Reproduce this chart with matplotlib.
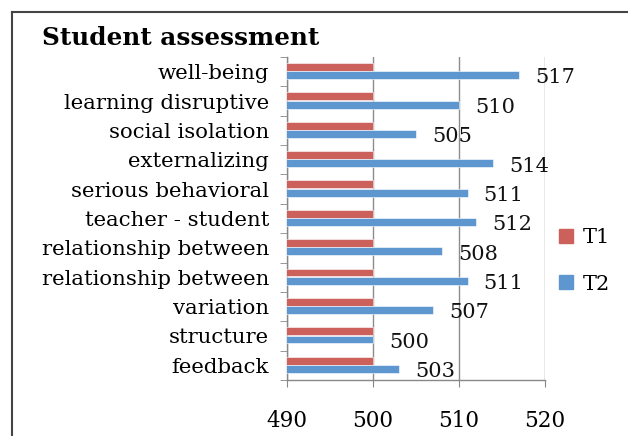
import matplotlib
matplotlib.use("Agg")
import matplotlib.pyplot as plt
import numpy as np
from matplotlib.lines import Line2D

categories = ["well-being", "learning disruptive", "social isolation", "externalizing",
              "serious behavioral", "teacher - student", "relationship between",
              "relationship between", "variation", "structure", "feedback"]
t1 = [500, 500, 500, 500, 500, 500, 500, 500, 500, 500, 500]
t2 = [517, 510, 505, 514, 511, 512, 508, 511, 507, 500, 503]
series_names = ["T1", "T2"]
x_ticks = [490, 500, 510, 520]

RED = "#CC605B"
BLUE = "#5E96D0"
FONT = "DejaVu Serif"

fig = plt.figure(figsize=(6.28, 4.36), dpi=100)
ax = fig.add_axes([287/628, 1-380/436, (545-287)/628, (380-57)/436])

y = np.arange(len(categories))
h = 0.27
ax.barh(y - 0.16, t1, height=h, color=RED, edgecolor="white", linewidth=0.4, zorder=3)
ax.barh(y + 0.12, t2, height=h, color=BLUE, edgecolor="white", linewidth=0.4, zorder=3)

for yi, v in zip(y, t2):
    ax.annotate(str(v), xy=(v, yi + 0.12), xytext=(11.5, -2.0), textcoords="offset points",
                ha="left", va="center", fontsize=15, family=FONT, color="#111111",
                annotation_clip=False, zorder=5)

ax.set_xlim(490, 520)
ax.set_ylim(len(categories) - 0.5, -0.5)
ax.set_xticks(x_ticks)
ax.set_xticklabels([str(t) for t in x_ticks], family=FONT, fontsize=15.5)
ax.set_yticks(y)
ax.set_yticklabels(categories, family=FONT, fontsize=15.3)
ax.set_yticks(np.arange(len(categories) + 1) - 0.5, minor=True)

ax.tick_params(axis="y", which="major", length=0, pad=13)
ax.tick_params(axis="y", which="minor", length=5, color="#888888", direction="out")
ax.tick_params(axis="x", which="major", length=5, color="#888888", direction="out", pad=16.5)

ax.grid(axis="x", color="#8c8c8c", linewidth=1.0, zorder=0)
for s in ["top", "right"]:
    ax.spines[s].set_visible(False)
for s in ["left", "bottom"]:
    ax.spines[s].set_color("#888888")
    ax.spines[s].set_linewidth(1.0)

handles = [Line2D([], [], marker="s", linestyle="none", markersize=9.5, color=RED),
           Line2D([], [], marker="s", linestyle="none", markersize=9.5, color=BLUE)]
fig.legend(handles, series_names, loc="center left", bbox_to_anchor=(549/628, 1-261/436),
           frameon=False, prop={"family": FONT, "size": 15}, labelspacing=1.3,
           handlelength=0.8, handletextpad=0.4, borderaxespad=0)

fig.text(42/628, 1-38/436, "Student assessment", family=FONT, fontweight="bold",
         fontsize=17.8, va="center", ha="left")

# outer chart frame (left and top edges)
fig.add_artist(Line2D([12/628, 12/628], [0, 1-12/436], transform=fig.transFigure,
                      color="#444444", linewidth=1.5))
fig.add_artist(Line2D([12/628, 1], [1-12/436, 1-12/436], transform=fig.transFigure,
                      color="#444444", linewidth=1.5))

fig.savefig("out.png", dpi=100)
